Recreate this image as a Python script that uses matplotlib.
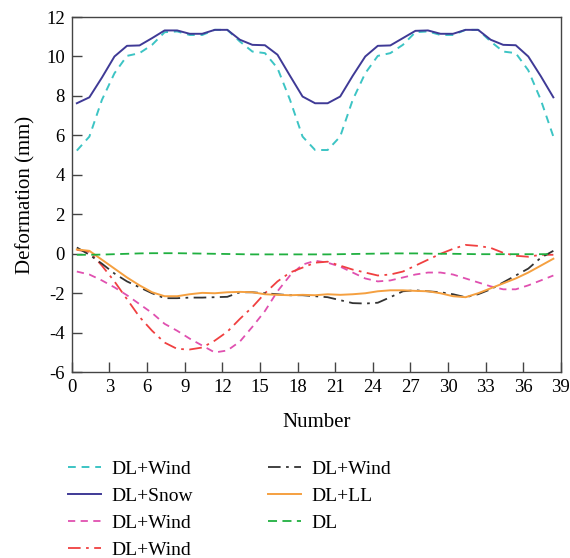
import numpy as np
import matplotlib
matplotlib.use("Agg")
import matplotlib.pyplot as plt

plt.rcParams['font.family'] = ['Liberation Serif', 'DejaVu Serif']
plt.rcParams['axes.unicode_minus'] = False

# sample positions along the x axis (Number)
number = np.arange(39) + 0.4

wind_a = [5.23, 5.94, 7.8, 9.15, 10.03, 10.17, 10.59, 11.23, 11.27, 11.09,
          11.09, 11.35, 11.35, 10.76, 10.25, 10.17, 9.41, 7.8, 5.94, 5.26,
          5.26, 5.94, 7.8, 9.15, 10.03, 10.17, 10.59, 11.23, 11.27, 11.09,
          11.09, 11.35, 11.35, 10.76, 10.25, 10.17, 9.3, 7.8, 5.94]
snow = [7.63, 7.93, 8.93, 10.0, 10.54, 10.56, 10.93, 11.32, 11.32, 11.15,
        11.15, 11.35, 11.35, 10.85, 10.59, 10.57, 10.09, 9.02, 7.97, 7.63,
        7.63, 7.97, 9.02, 10.0, 10.54, 10.56, 10.93, 11.3, 11.32, 11.15,
        11.15, 11.35, 11.35, 10.85, 10.59, 10.57, 10.0, 9.0, 7.93]
wind_b = [-0.9, -1.05, -1.35, -1.7, -2.1, -2.55, -3.0, -3.55, -3.9, -4.3,
          -4.65, -5.0, -4.9, -4.45, -3.7, -2.9, -1.9, -1.1, -0.55, -0.35,
          -0.45, -0.65, -0.95, -1.25, -1.4, -1.35, -1.2, -1.05, -0.95, -0.95,
          -1.05, -1.25, -1.45, -1.65, -1.8, -1.8, -1.6, -1.35, -1.1]
wind_c = [0.2, 0.1, -0.6, -1.4, -2.3, -3.2, -3.9, -4.5, -4.82, -4.85,
          -4.75, -4.4, -3.95, -3.3, -2.7, -2.0, -1.4, -0.95, -0.7, -0.45,
          -0.4, -0.6, -0.8, -0.95, -1.1, -1.05, -0.9, -0.6, -0.3, 0.0,
          0.25, 0.45, 0.4, 0.3, 0.05, -0.1, -0.15, -0.05, -0.05]
wind_d = [0.32, -0.05, -0.5, -1.0, -1.4, -1.7, -2.0, -2.25, -2.25, -2.22,
          -2.22, -2.2, -2.18, -1.95, -1.95, -2.0, -2.05, -2.1, -2.1, -2.15,
          -2.2, -2.35, -2.5, -2.52, -2.48, -2.2, -1.9, -1.85, -1.9, -1.95,
          -2.05, -2.2, -2.05, -1.8, -1.45, -1.1, -0.75, -0.2, 0.15]
live = [0.22, 0.15, -0.3, -0.75, -1.2, -1.6, -1.95, -2.15, -2.15, -2.05,
        -1.98, -2.0, -1.95, -1.93, -1.95, -2.05, -2.08, -2.1, -2.08, -2.1,
        -2.05, -2.08, -2.05, -2.0, -1.9, -1.85, -1.85, -1.88, -1.9, -2.0,
        -2.15, -2.2, -2.0, -1.75, -1.5, -1.25, -0.95, -0.6, -0.25]
dead = [-0.05, -0.05, -0.04, -0.02, 0.0, 0.02, 0.03, 0.03, 0.03, 0.02,
        0.01, 0.0, -0.01, -0.02, -0.03, -0.03, -0.03, -0.03, -0.03, -0.03,
        -0.03, -0.02, -0.01, 0.0, 0.01, 0.02, 0.02, 0.02, 0.01, 0.0,
        0.0, -0.01, -0.02, -0.02, -0.02, -0.02, -0.02, -0.02, -0.02]

fig = plt.figure(figsize=(5.7, 5.58), dpi=100)
ax = fig.add_axes([0.126, 0.333, 0.858, 0.6365])

ax.plot(number, wind_a, color='#3cc4c4', lw=1.4, ls=(0, (4, 3)), label='DL+Wind')
ax.plot(number, snow, color='#3f3a96', lw=1.4, label='DL+Snow')
ax.plot(number, wind_b, color='#e050b0', lw=1.3, ls=(0, (4, 3)), label='DL+Wind')
ax.plot(number, wind_c, color='#f04040', lw=1.3, ls=(0, (7, 3, 1.5, 3)), label='DL+Wind')
ax.plot(number, wind_d, color='#333333', lw=1.3, ls=(0, (7, 3, 1.5, 3)), label='DL+Wind')
ax.plot(number, live, color='#f5a040', lw=1.4, label='DL+LL')
ax.plot(number, dead, color='#20b040', lw=1.3, ls=(0, (5, 3)), label='DL')

ax.set_xlim(0, 39)
ax.set_ylim(-6, 12)
ax.set_xticks(np.arange(0, 40, 3))
ax.set_yticks(np.arange(-6, 13, 2))
ax.tick_params(direction='in', length=7, width=1, color='#444444',
               labelsize=13.5, top=False, right=False, pad=5)
for sp in ax.spines.values():
    sp.set_color('#444444')
    sp.set_linewidth(1.0)

ax.set_xlabel('Number', fontsize=15, labelpad=12)
ax.set_ylabel('Deformation (mm)', fontsize=15, labelpad=8)

fig.legend(loc='upper left', bbox_to_anchor=(0.088, 0.207), ncol=2, frameon=False,
           fontsize=14, handlelength=1.7, columnspacing=3.85, labelspacing=0.49,
           handletextpad=0.55)

fig.savefig('out.png', dpi=100)
